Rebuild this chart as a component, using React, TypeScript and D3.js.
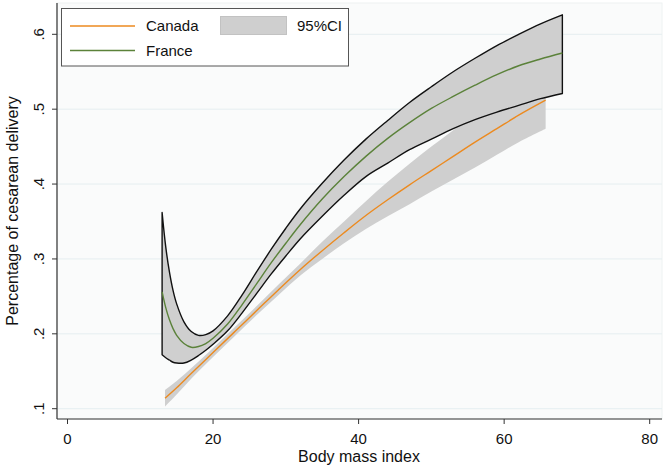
import React from "react";
import * as d3 from "d3";

// ---- data ----
const xTicks = [0, 20, 40, 60, 80];
const yTicks = [0.1, 0.2, 0.3, 0.4, 0.5, 0.6];
const yTickLabels = [".1", ".2", ".3", ".4", ".5", ".6"];

const canadaBmi = [13.4, 15, 17, 20, 23, 26, 29, 32, 35, 38, 41, 44, 47, 50, 53, 56, 59, 62, 65.7];
const canadaFit = [0.114, 0.128, 0.147, 0.175, 0.203, 0.231, 0.259, 0.286, 0.311, 0.335, 0.358, 0.379, 0.399, 0.418, 0.437, 0.456, 0.474, 0.492, 0.512];
const canadaLow = [0.103, 0.119, 0.14, 0.169, 0.197, 0.225, 0.252, 0.278, 0.3, 0.321, 0.34, 0.357, 0.373, 0.39, 0.406, 0.422, 0.439, 0.456, 0.474];
const canadaHigh = [0.125, 0.137, 0.154, 0.181, 0.209, 0.237, 0.266, 0.294, 0.323, 0.35, 0.377, 0.403, 0.427, 0.45, 0.472, 0.493, 0.512, 0.531, 0.55];

const franceBmi = [13, 13.5, 14, 14.5, 15, 16, 17, 18, 19, 20, 22, 24, 26, 28, 30, 32, 35, 38, 41, 44, 47, 50, 53, 56, 59, 62, 65, 68];
const franceFit = [0.256, 0.235, 0.219, 0.207, 0.198, 0.187, 0.182, 0.183, 0.187, 0.194, 0.213, 0.239, 0.267, 0.295, 0.321, 0.346, 0.38, 0.41, 0.437, 0.461, 0.482, 0.501, 0.517, 0.532, 0.546, 0.558, 0.567, 0.575];
const franceHigh = [0.362, 0.316, 0.283, 0.258, 0.24, 0.216, 0.203, 0.198, 0.199, 0.204, 0.224, 0.252, 0.283, 0.313, 0.341, 0.367, 0.401, 0.432, 0.46, 0.485, 0.509, 0.53, 0.55, 0.568, 0.585, 0.6, 0.614, 0.626];
const franceLow = [0.172, 0.168, 0.165, 0.162, 0.161, 0.161, 0.165, 0.171, 0.178, 0.186, 0.204, 0.228, 0.254, 0.28, 0.304, 0.327, 0.357, 0.385, 0.41, 0.428, 0.446, 0.46, 0.474, 0.486, 0.496, 0.505, 0.514, 0.521];

const W = 666;
const H = 470;
const FONT = "'Liberation Sans', Arial, Helvetica, sans-serif";
const ORANGE = "#ec8a1f";
const GREEN = "#5b823a";
const BAND = "#cfcfcf";

export default function App() {
  const x = d3.scaleLinear().domain([0, 80]).range([67.5, 649.7]);
  const y = d3.scaleLinear().domain([0.1, 0.6]).range([408.7, 34.3]);
  const plotL = 57, plotR = 662, plotT = 3, plotB = 419;
  const curve = d3.curveCatmullRom.alpha(0.5);

  const canadaIdx = canadaBmi.map((_, i) => i);
  const franceIdx = franceBmi.map((_, i) => i);

  const cArea = d3.area<number>()
    .x((i) => x(canadaBmi[i]))
    .y0((i) => y(canadaLow[i]))
    .y1((i) => y(canadaHigh[i]))
    .curve(curve);
  const fArea = d3.area<number>()
    .x((i) => x(franceBmi[i]))
    .y0((i) => y(franceLow[i]))
    .y1((i) => y(franceHigh[i]))
    .curve(curve);
  const cLine = d3.line<number>()
    .x((i) => x(canadaBmi[i]))
    .y((i) => y(canadaFit[i]))
    .curve(curve);
  const fLine = d3.line<number>()
    .x((i) => x(franceBmi[i]))
    .y((i) => y(franceFit[i]))
    .curve(curve);

  return (
    <svg width={W} height={H} style={{ position: "absolute", left: 0, top: 0, background: "#fff" }} fontFamily={FONT}>
      <rect x={plotL} y={plotT} width={plotR - plotL} height={plotB - plotT} fill="#fafbfb" stroke="#eef2f2" />
      {yTicks.map((t) => (
        <line key={"g" + t} x1={plotL} x2={plotR} y1={y(t)} y2={y(t)} stroke="#e5eef0" strokeWidth={1} />
      ))}

      {/* Canada CI */}
      <path d={cArea(canadaIdx) || ""} fill={BAND} stroke="none" />
      {/* France CI */}
      <path d={fArea(franceIdx) || ""} fill={BAND} stroke="#111" strokeWidth={1.4} strokeLinejoin="round" />
      {/* Lines */}
      <path d={cLine(canadaIdx) || ""} fill="none" stroke={ORANGE} strokeWidth={1.4} />
      <path d={fLine(franceIdx) || ""} fill="none" stroke={GREEN} strokeWidth={1.4} />

      {/* axes */}
      <line x1={plotL} x2={plotL} y1={plotT} y2={plotB} stroke="#333" strokeWidth={1.2} />
      <line x1={plotL} x2={plotR} y1={plotB} y2={plotB} stroke="#333" strokeWidth={1.2} />
      {yTicks.map((t, i) => (
        <g key={"yt" + t}>
          <line x1={plotL - 5} x2={plotL} y1={y(t)} y2={y(t)} stroke="#333" strokeWidth={1} />
          <text
            transform={`translate(44, ${y(t)}) rotate(-90)`}
            textAnchor="middle"
            fontSize={15}
            fill="#111"
          >
            {yTickLabels[i]}
          </text>
        </g>
      ))}
      {xTicks.map((t) => (
        <g key={"xt" + t}>
          <line x1={x(t)} x2={x(t)} y1={plotB} y2={plotB + 5} stroke="#333" strokeWidth={1} />
          <text x={x(t)} y={443.5} textAnchor="middle" fontSize={15} fill="#111">
            {t}
          </text>
        </g>
      ))}
      <text x={359} y={462} textAnchor="middle" fontSize={16} fill="#111">
        Body mass index
      </text>
      <text transform={`translate(18, 211) rotate(-90)`} textAnchor="middle" fontSize={16} fill="#111">
        Percentage of cesarean delivery
      </text>

      {/* legend */}
      <rect x={61.5} y={8.5} width={287} height={57.5} fill="#fff" stroke="#555" strokeWidth={1} />
      <line x1={70} x2={135} y1={26} y2={26} stroke={ORANGE} strokeWidth={1.4} />
      <text x={146} y={31} fontSize={15} fill="#111">Canada</text>
      <rect x={220.5} y={16.5} width={66} height={18} fill={BAND} stroke="#c2c2c2" />
      <text x={297} y={31} fontSize={15} fill="#111">95%CI</text>
      <line x1={70} x2={135} y1={50.5} y2={50.5} stroke={GREEN} strokeWidth={1.4} />
      <text x={146} y={56} fontSize={15} fill="#111">France</text>
    </svg>
  );
}
